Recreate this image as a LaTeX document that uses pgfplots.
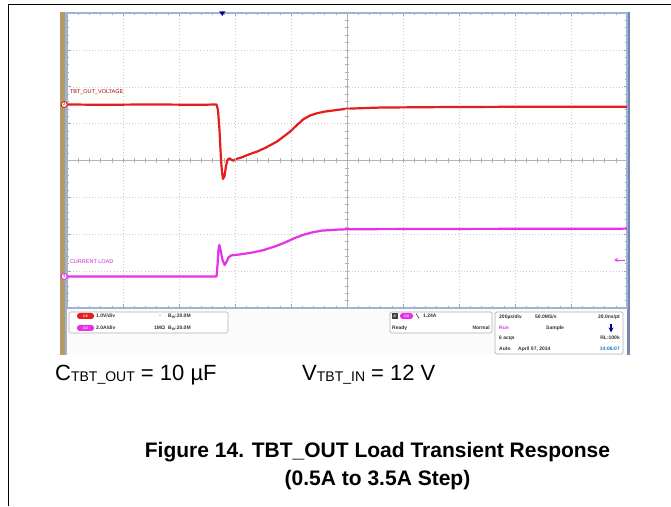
\documentclass[border=0pt]{standalone}
\usepackage{pgfplots}
\pgfplotsset{compat=1.18}
\usepackage{fontspec}
\setmainfont{Liberation Sans}
\newfontfamily\djv{DejaVu Sans}
\definecolor{scred}{HTML}{E41E1E}
\definecolor{scmag}{HTML}{E632E6}
\definecolor{tanstrip}{HTML}{B39B62}
\definecolor{bord}{HTML}{9DB4D8}
\definecolor{rstrip}{HTML}{7585B0}
\newcommand\st{\fontsize{5}{5}\selectfont\bfseries}
\begin{document}
\begin{tikzpicture}[x=1pt,y=1pt]
\useasboundingbox (0,0) rectangle (671,506);
% page frame
\draw[line width=1.4pt] (8.5,0) -- (8.5,501.5) -- (671,501.5);
% screenshot background
\fill[white!97!gray] (60,151) rectangle (629.5,494);
\fill[tanstrip] (60,151) rectangle (65,494);
\fill[bord] (65,151) rectangle (67,494);
\fill[rstrip] (627,151) rectangle (629.5,494);
\begin{axis}[at={(67pt,198pt)}, anchor=south west, width=560pt, height=295pt, scale only axis,
  xmin=0, xmax=10, ymin=-4, ymax=4,
  xtick={0,...,10}, ytick={-4,...,4}, minor x tick num=4, minor y tick num=4,
  xticklabels={}, yticklabels={}, tick align=inside,
  grid=major, major grid style={gray!40, dash pattern=on 0.7pt off 2.4pt},
  axis line style={bord, line width=1.5pt},
  major tick length=3.5pt, minor tick length=2.2pt,
  every tick/.style={gray!70, line width=0.5pt},
  clip mode=individual, axis background/.style={fill=white}]
\draw[gray!60, line width=0.6pt] (axis cs:5,-4) -- (axis cs:5,4);
\draw[gray!60, line width=0.6pt] (axis cs:0,0) -- (axis cs:10,0);
\addplot[scred, line width=2.2pt, line join=round] coordinates {
(0,1.52) (0.6,1.51) (1.5,1.52) (2.4,1.51) (2.67,1.52) (2.696,1.369) (2.723,0.827) (2.750,0.014) (2.768,-0.312) (2.786,-0.501) (2.813,-0.420) (2.839,-0.149) (2.866,0.014) (2.898,0.060) (2.929,0.027) (2.970,-0.005) (3.018,0.041) (3.089,0.068) (3.268,0.176) (3.388,0.238) (3.536,0.339) (3.745,0.509) (3.893,0.678) (3.982,0.780) (4.107,0.962) (4.220,1.117) (4.339,1.220) (4.459,1.279) (4.607,1.328) (4.816,1.369) (4.995,1.404) (5.589,1.436) (6.839,1.450) (8.625,1.460) (10,1.460)};
\addplot[scmag, line width=2.2pt, line join=round] coordinates {
(0,-3.144) (2.670,-3.144) (2.688,-2.832) (2.705,-2.425) (2.721,-2.290) (2.741,-2.425) (2.777,-2.696) (2.814,-2.832) (2.848,-2.751) (2.884,-2.629) (2.929,-2.575) (3.089,-2.547) (3.268,-2.507) (3.489,-2.439) (3.714,-2.331) (3.886,-2.228) (4.071,-2.100) (4.214,-2.019) (4.375,-1.951) (4.548,-1.902) (4.786,-1.878) (5.011,-1.864) (6.839,-1.856) (8.625,-1.851) (10,-1.848)};
\node[anchor=west, inner sep=0, text=red!65!black, font=\fontsize{5.5}{6}\selectfont] at (axis cs:0.05,1.856) {TBT\_OUT\_VOLTAGE};
\node[anchor=west, inner sep=0, text=scmag!85!black, font=\fontsize{5.5}{6}\selectfont] at (axis cs:0.05,-2.75) {CURRENT LOAD};
\node[circle, draw=scred, fill=white, line width=0.9pt, inner sep=0, minimum size=6pt, text=scred, font=\fontsize{4}{4}\selectfont\bfseries] at (axis cs:-0.05,1.52) {2};
\node[circle, draw=scmag, fill=white, line width=0.9pt, inner sep=0, minimum size=6pt, text=scmag, font=\fontsize{4}{4}\selectfont\bfseries] at (axis cs:-0.05,-3.144) {4};
\end{axis}
% centre graticule ticks
\foreach \i in {0,...,50} {\draw[gray!60, line width=0.5pt] ({67+\i*11.2},343.3) -- ++(0,4.4);}
\foreach \i in {0,...,40} {\draw[gray!60, line width=0.5pt] (344.8,{198+\i*7.375}) -- ++(4.4,0);}
% trigger and level markers
\fill[blue!60!black] (219.3,494.5) -- (225.3,494.5) -- (222.3,490) -- cycle;
\draw[scmag, line width=0.8pt, ->, >=stealth] (625,246) -- (614,246);
% status boxes
\draw[gray!60, rounded corners=1.5pt, line width=0.7pt, fill=white] (69,173) rectangle (228,194);
\fill[scred, rounded corners=2.7pt] (77,187) rectangle (94,193);
\node[text=white, font=\fontsize{3.5}{4}\selectfont\bfseries, inner sep=0] at (85.5,190) {C2};
\fill[scmag, rounded corners=2.7pt] (77,175) rectangle (94,181);
\node[text=white, font=\fontsize{3.5}{4}\selectfont\bfseries, inner sep=0] at (85.5,178) {C4};
\node[anchor=west, inner sep=0, font=\st, text=black!80] at (96,190) {1.0V/div};
\node[anchor=west, inner sep=0, font=\st, text=black!80] at (96,178) {2.0A/div};
\node[anchor=west, inner sep=0, font=\fontsize{4.5}{5}\selectfont\djv, text=black!70] at (159,190) {ₓ};
\node[anchor=west, inner sep=0, font=\st, text=black!80] at (168,190) {B\raisebox{-0.8pt}{\fontsize{3.5}{3.5}\selectfont W}:20.0M};
\node[anchor=west, inner sep=0, font=\st, text=black!80] at (154,178) {1MΩ};
\node[anchor=west, inner sep=0, font=\st, text=black!80] at (168,178) {B\raisebox{-0.8pt}{\fontsize{3.5}{3.5}\selectfont W}:20.0M};
\draw[gray!60, rounded corners=1.5pt, line width=0.7pt, fill=white] (390,173) rectangle (492,194);
\fill[black!75] (392,187) rectangle (398,193);
\node[text=white, font=\fontsize{3.5}{4}\selectfont\bfseries, inner sep=0] at (395,190) {A'};
\fill[scmag, rounded corners=2.7pt] (400,187) rectangle (413,193);
\node[text=white, font=\fontsize{3.5}{4}\selectfont\bfseries, inner sep=0] at (406.5,190) {C4};
\draw[black!75, line width=0.6pt] (416,192.5) -- (419,187.5);
\node[anchor=west, inner sep=0, font=\st, text=black!80] at (423,190) {1.24A};
\node[anchor=west, inner sep=0, font=\st, text=black!80] at (392,178) {Ready};
\node[anchor=east, inner sep=0, font=\st, text=black!80] at (490,178) {Normal};
\draw[gray!60, rounded corners=1.5pt, line width=0.7pt, fill=white] (495,152) rectangle (623,194);
\node[anchor=west, inner sep=0, font=\st, text=black!80] at (499,189) {200µs/div};
\node[anchor=west, inner sep=0, font=\st, text=black!80] at (535,189) {50.0MS/s};
\node[anchor=east, inner sep=0, font=\st, text=black!80] at (620,189) {20.0ns/pt};
\node[anchor=west, inner sep=0, font=\st, text=scmag] at (499,178) {Run};
\node[anchor=west, inner sep=0, font=\st, text=black!80] at (546,178) {Sample};
\draw[blue!60!black, line width=1.2pt, ->, >=stealth] (611,182) -- (611,173.5);
\node[anchor=west, inner sep=0, font=\st, text=black!80] at (499,168) {6 acqs};
\node[anchor=east, inner sep=0, font=\st, text=black!80] at (620,168) {RL:100k};
\node[anchor=west, inner sep=0, font=\st, text=black!80] at (499,157) {Auto};
\node[anchor=west, inner sep=0, font=\st, text=black!80] at (518,157) {April 07, 2014};
\node[anchor=east, inner sep=0, font=\st, text=cyan!60!blue] at (620,157) {14:06:07};
% texts
\node[anchor=base west, inner sep=0, font=\fontsize{22}{26}\selectfont] at (55,126) {C\raisebox{-2pt}{\fontsize{14}{14}\selectfont TBT\_OUT} = 10 µF};
\node[anchor=base west, inner sep=0, font=\fontsize{22}{26}\selectfont] at (302,126) {V\raisebox{-2pt}{\fontsize{14}{14}\selectfont TBT\_IN} = 12 V};
\node[anchor=base, inner sep=0, font=\fontsize{21}{26}\selectfont\bfseries] at (377.5,48.5) {Figure 14. TBT\_OUT Load Transient Response};
\node[anchor=base, inner sep=0, font=\fontsize{21}{26}\selectfont\bfseries] at (377.5,20.5) {(0.5A to 3.5A Step)};
\end{tikzpicture}
\end{document}
